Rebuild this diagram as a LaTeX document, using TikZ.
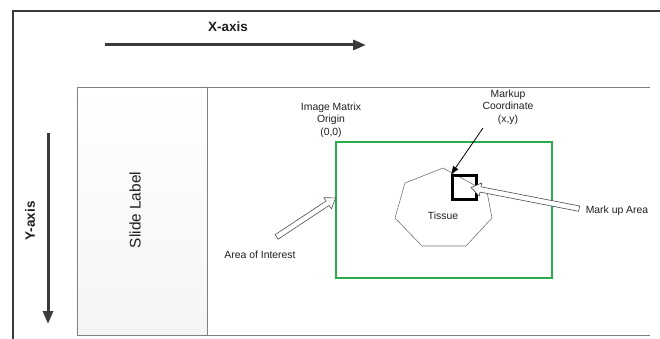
\documentclass[tikz,border=0pt]{standalone}
\usepackage{fontspec}
\setmainfont{Liberation Sans}
\usetikzlibrary{arrows.meta,shapes.arrows,calc}
\definecolor{aoigreen}{RGB}{40,172,78}
\definecolor{axisgray}{RGB}{58,58,58}
\definecolor{textgray}{RGB}{30,30,30}

\begin{document}
\begin{tikzpicture}[x=1pt, y=-1pt, font=\fontsize{10.4}{12.6}\selectfont, text=textgray,
	axisarrow/.style={line width=3pt, draw=axisgray, -{Triangle[length=13pt,width=10pt]}},
	axislabel/.style={font=\fontsize{13.5}{16}\selectfont\bfseries},
	hollowarrow/.style={single arrow, draw=black!70, fill=white, line width=0.6pt, inner xsep=0pt, inner ysep=2.4pt, single arrow head extend=4pt, single arrow tip angle=70},
	infotext/.style={align=center, font=\fontsize{10.4}{12.6}\selectfont}]
	\useasboundingbox (0,0) rectangle (660,339);
	\draw[line width=1.2pt, draw=axisgray] (660,11) -- (13,11) -- (13,339);
	% axes
	\node[axislabel] (xlabel) at (228,27) {X-axis};
	\coordinate (xstart) at (105,45);
	\coordinate (xend) at (366,45);
	\draw[axisarrow] (xstart) -- (xend);
	\node[axislabel, rotate=90] (ylabel) at (30,221) {Y-axis};
	\coordinate (ystart) at (48,133);
	\coordinate (yend) at (48,324);
	\draw[axisarrow] (ystart) -- (yend);
	% slide
	\shade[top color=white, middle color=white, bottom color=black!4] (77,87) rectangle (207,335);
	\draw[black!50, line width=0.7pt] (650,87) -- (77,87) -- (77,335) -- (650,335);
	\draw[black!50, line width=0.7pt] (207,87) -- (207,335);
	\node[rotate=90, font=\fontsize{15.4}{18}\selectfont] (slidelabel) at (135,210) {Slide Label};
	% area of interest
	\node[draw=aoigreen, line width=1.6pt, minimum width=216, minimum height=136, inner sep=0pt] (aoi) at (444,210) {};
	\node[infotext] (origin) at (331,120) {Image Matrix\\Origin\\(0,0)};
	\node (aoilabel) at (260,255) {Area of Interest};
	% tissue
	\draw[black!55, line width=0.6pt] (443,168) -- (487,192) -- (492,218) -- (466,246) -- (422,246) -- (395,218) -- (405,183) -- cycle;
	\node (tissue) at (443,216) {Tissue};
	\node[draw=black, line width=2.6pt, minimum size=24, inner sep=0pt] (markbox) at (464.5,187.5) {};
	\node[infotext] (markup) at (508,107) {Markup\\Coordinate\\(x,y)};
	\node (markarea) at (617,211) {Mark up Area};
	% pointers
	\coordinate (markupfoot) at (483,128);
	\draw[line width=0.8pt, -{Triangle[length=8pt,width=6pt]}] (markupfoot) -- (markbox.north west);
	\coordinate (aoitail) at (275,238);
	\coordinate (aoitip) at (334,199);
	\path let \p1=($(aoitip)-(aoitail)$), \n1={atan2(\y1,\x1)}, \n2={veclen(\x1,\y1)} in
		node[hollowarrow, minimum height=\n2, rotate=\n1] (aoiarrow) at ($(aoitail)!0.5!(aoitip)$) {};
	\coordinate (marktail) at (581,209);
	\coordinate (marktip) at (473,188);
	\path let \p1=($(marktip)-(marktail)$), \n1={atan2(\y1,\x1)}, \n2={veclen(\x1,\y1)} in
		node[hollowarrow, minimum height=\n2, rotate=\n1] (markarrow) at ($(marktail)!0.5!(marktip)$) {};
\end{tikzpicture}
\end{document}
